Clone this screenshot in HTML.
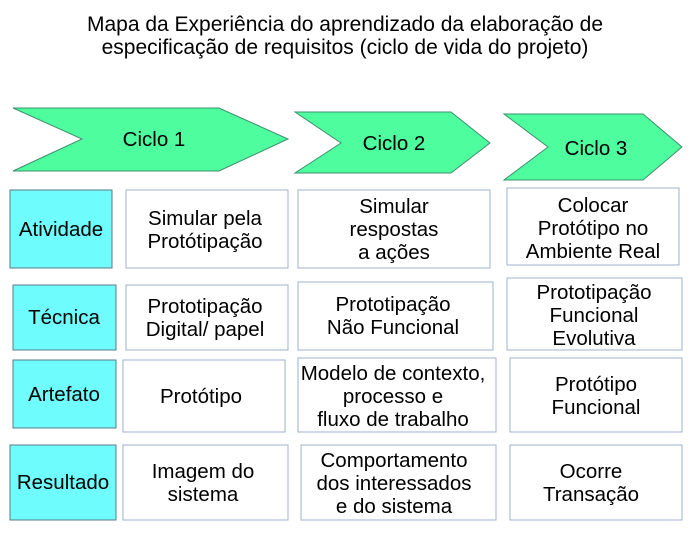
<!DOCTYPE html>
<html><head><meta charset="utf-8"><style>body{margin:0;background:#fff}</style></head><body>
<svg width="691" height="537" xmlns="http://www.w3.org/2000/svg" font-family="Liberation Sans, sans-serif" font-size="20.5" fill="#000">
<text x="345" y="31" text-anchor="middle" font-size="21">Mapa da Experiência do aprendizado da elaboração de</text>
<text x="345" y="54" text-anchor="middle" font-size="21">especificação de requisitos (ciclo de vida do projeto)</text>
<g fill="#4dfd9e" stroke="#3f8f6f" stroke-width="1">
<polygon points="13,108 219,108 288,139 219,171 13,171 82,139"/>
<polygon points="295,112 451,112 490,143 451,173 295,173 341,143"/>
<polygon points="504,114 643,114 682,147 643,180 504,180 548,147"/>
</g>
<text x="154" y="146" text-anchor="middle">Ciclo 1</text>
<text x="394" y="150" text-anchor="middle">Ciclo 2</text>
<text x="596" y="155" text-anchor="middle">Ciclo 3</text>
<g fill="#6ffcfc" stroke="#5a7a8a">
<rect x="10" y="190" width="102" height="78"/>
<rect x="13" y="285" width="103" height="65"/>
<rect x="13" y="360" width="103" height="68"/>
<rect x="10" y="445" width="106" height="75"/>
</g>
<g fill="#fff" stroke="#9fb0cc">
<rect x="126" y="190" width="162" height="78"/>
<rect x="298" y="190" width="192" height="78"/>
<rect x="507" y="188" width="172" height="77"/>
<rect x="126" y="285" width="162" height="65"/>
<rect x="298" y="282" width="195" height="68"/>
<rect x="507" y="278" width="175" height="72"/>
<rect x="123" y="360" width="162" height="72"/>
<rect x="298" y="358" width="198" height="74"/>
<rect x="510" y="358" width="172" height="74"/>
<rect x="123" y="445" width="165" height="75"/>
<rect x="301" y="445" width="195" height="75"/>
<rect x="510" y="445" width="172" height="75"/>
</g>
<g text-anchor="middle">
<text x="61" y="236">Atividade</text>
<text x="64" y="324">Técnica</text>
<text x="64" y="401">Artefato</text>
<text x="63" y="489">Resultado</text>
<text x="205" y="225">Simular pela</text>
<text x="205" y="248">Protótipação</text>
<text x="394" y="213">Simular</text>
<text x="394" y="236">respostas</text>
<text x="394" y="259">a ações</text>
<text x="593" y="212">Colocar</text>
<text x="593" y="235">Protótipo  no</text>
<text x="593" y="258">Ambiente Real</text>
<text x="205" y="313">Prototipação</text>
<text x="205" y="336">Digital/ papel</text>
<text x="393" y="311">Prototipação</text>
<text x="393" y="334">Não Funcional</text>
<text x="594" y="299">Prototipação</text>
<text x="594" y="322">Funcional</text>
<text x="594" y="345">Evolutiva</text>
<text x="201" y="403">Protótipo</text>
<text x="393" y="380">Modelo de contexto,</text>
<text x="393" y="403">processo e</text>
<text x="393" y="426">fluxo de trabalho</text>
<text x="596" y="391">Protótipo</text>
<text x="596" y="414">Funcional</text>
<text x="203" y="478">Imagem do</text>
<text x="203" y="501">sistema</text>
<text x="394" y="467">Comportamento</text>
<text x="394" y="490">dos interessados</text>
<text x="394" y="513">e do sistema</text>
<text x="591" y="478">Ocorre</text>
<text x="591" y="501">Transação</text>
</g>
</svg>
</body></html>
